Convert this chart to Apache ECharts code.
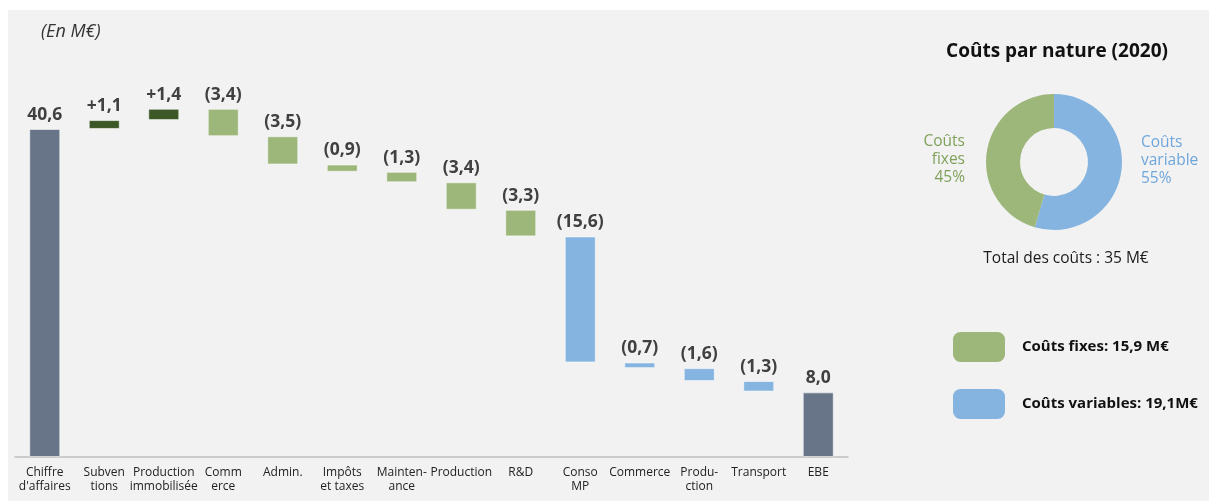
<!DOCTYPE html>
<html>
<head>
<meta charset="utf-8">
<script src="https://cdn.jsdelivr.net/npm/echarts@6/dist/echarts.min.js"></script>
<style>
  html, body { margin: 0; padding: 0; background: #ffffff; }
  #chart { width: 1209px; height: 503px; }
</style>
</head>
<body>
<div id="chart"></div>
<script>
// Bridge from revenue to EBE (M€)
const categories = [
  'Chiffre\nd\'affaires', 'Subven\ntions', 'Production\nimmobilisée', 'Comm\nerce',
  'Admin.', 'Impôts\net taxes', 'Mainten-\nance', 'Production', 'R&D',
  'Conso\nMP', 'Commerce', 'Produ-\nction', 'Transport', 'EBE'
];
const deltas = [40.6, 1.1, 1.4, -3.4, -3.5, -0.9, -1.3, -3.4, -3.3, -15.6, -0.7, -1.6, -1.3, 8.0];
// total = absolute bar, gain = income, fixe / variable = cost type
const kinds = ['total', 'gain', 'gain', 'fixe', 'fixe', 'fixe', 'fixe', 'fixe', 'fixe',
               'variable', 'variable', 'variable', 'variable', 'total'];

// Cost split by nature (M€)
const natureNames = ['Coûts variables', 'Coûts fixes'];
const natureValues = [19.1, 15.9];
const natureLegendText = ['Coûts variables: 19,1M€', 'Coûts fixes: 15,9 M€'];
const natureTotal = 35;

const palette = {
  total: '#687588',
  gain: '#3b5826',
  fixe: '#9db77a',
  variable: '#85b4e0'
};
const FONT = '"Open Sans", "DejaVu Sans", sans-serif';

const fmt = v => Math.abs(v).toFixed(1).replace('.', ',');

// Running totals -> invisible base + visible step
const base = [];
const step = [];
let running = 0;
deltas.forEach((d, i) => {
  if (kinds[i] === 'total') {
    base.push(0);
    step.push(d);
    running = d;
  } else if (d >= 0) {
    base.push(running);
    step.push(d);
    running += d;
  } else {
    running += d;
    base.push(running);
    step.push(-d);
  }
});

const stepLabel = i => {
  const d = deltas[i];
  if (kinds[i] === 'total') return fmt(d);
  return d >= 0 ? '+' + fmt(d) : '(' + fmt(d) + ')';
};

const chart = echarts.init(document.getElementById('chart'), null, { renderer: 'canvas' });

const pct = i => Math.round(natureValues[i] / natureTotal * 100) + '%';

chart.setOption({
  backgroundColor: '#ffffff',
  animation: false,
  textStyle: { fontFamily: FONT },
  graphic: [
    {
      type: 'rect', z: -100, silent: true,
      shape: { x: 8, y: 10, width: 1201, height: 491 },
      style: { fill: '#f2f2f2' }
    },
    {
      type: 'text', x: 41, y: 32,
      style: { text: '(En M€)', font: 'italic 18px ' + FONT, fill: '#333333',
               verticalAlign: 'middle' }
    },
    {
      type: 'text', x: 1057, y: 52,
      style: { text: 'Coûts par nature (2020)', font: 'bold 19px ' + FONT, fill: '#111111',
               align: 'center', verticalAlign: 'middle' }
    },
    {
      type: 'text', x: 965, y: 160,
      style: { text: 'Coûts\nfixes\n' + pct(1), font: '15.5px ' + FONT, lineHeight: 18,
               fill: '#7fa05a', align: 'right', verticalAlign: 'middle' }
    },
    {
      type: 'text', x: 1141, y: 161,
      style: { text: 'Coûts\nvariable\n' + pct(0), font: '15.5px ' + FONT, lineHeight: 18,
               fill: '#6fa6dc', align: 'left', verticalAlign: 'middle' }
    },
    {
      type: 'text', x: 1066, y: 259,
      style: { text: 'Total des coûts : ' + natureTotal + ' M€', font: '15.5px ' + FONT,
               fill: '#1a1a1a', align: 'center', verticalAlign: 'middle' }
    }
  ],
  legend: {
    orient: 'vertical',
    left: 953,
    top: 332,
    padding: 0,
    itemWidth: 52,
    itemHeight: 30,
    itemGap: 27,
    icon: 'roundRect',
    selectedMode: false,
    data: ['Coûts fixes', 'Coûts variables'],
    formatter: name => natureLegendText[natureNames.indexOf(name)],
    textStyle: { fontFamily: FONT, fontWeight: 'bold', fontSize: 15, color: '#111111',
                 padding: [0, 0, 0, 12] }
  },
  grid: { left: 15, width: 833, top: 53, bottom: 46 },
  xAxis: {
    type: 'category',
    data: categories,
    axisLine: { lineStyle: { color: '#bfbfbf', width: 1.5 } },
    axisTick: { show: false },
    axisLabel: { interval: 0, fontSize: 12, lineHeight: 14, color: '#222222', margin: 9,
                 fontFamily: FONT }
  },
  yAxis: {
    type: 'value', min: 0, max: 50,
    show: false, splitLine: { show: false }
  },
  series: [
    {
      type: 'bar', stack: 'w', data: base, barWidth: 31,
      itemStyle: { color: 'transparent' }, silent: true
    },
    {
      type: 'bar', stack: 'w', barWidth: 31,
      data: step.map((v, i) => ({
        value: v,
        itemStyle: { color: palette[kinds[i]], borderColor: 'rgba(255,255,255,0.55)', borderWidth: 1 }
      })),
      label: {
        show: true, position: 'top', distance: 5,
        formatter: p => stepLabel(p.dataIndex),
        fontFamily: FONT, fontWeight: 'bold', fontSize: 17.5, color: '#404040'
      }
    },
    {
      type: 'pie',
      center: [1054, 162],
      radius: [34, 68],
      startAngle: 90,
      clockwise: true,
      label: { show: false },
      labelLine: { show: false },
      emphasis: { disabled: true },
      data: natureNames.map((n, i) => ({
        name: n, value: natureValues[i],
        itemStyle: { color: i === 0 ? palette.variable : palette.fixe }
      }))
    }
  ]
});
</script>
</body>
</html>
